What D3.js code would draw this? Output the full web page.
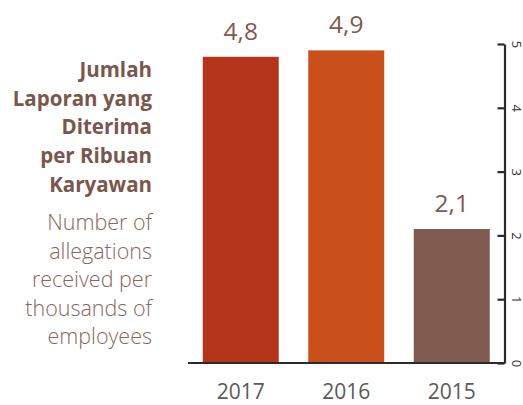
<!DOCTYPE html>
<html lang="id">

<head>
  <meta charset="UTF-8">
  <title>Jumlah Laporan</title>
  <style>
    body {
      margin: 0;
      background: #fff;
    }

    .chart text {
      font-family: "Open Sans", "DejaVu Sans", sans-serif;
    }

    .title {
      fill: #7b564b;
      font-weight: 700;
      font-size: 20.5px;
    }

    .subtitle {
      fill: #8a665c;
      font-weight: 300;
      font-size: 21.5px;
    }

    .val {
      fill: #7f5a50;
      font-size: 24.5px;
    }

    .year {
      fill: #5a5a5a;
      font-size: 21px;
    }

    .yaxis path,
    .yaxis line {
      stroke: #2b2b2b;
      stroke-width: 2.2;
    }

    .yaxis text {
      fill: #333;
      font-size: 13px;
    }
  </style>
</head>

<body>
  <div class="warp"></div>
  <script src="https://cdn.jsdelivr.net/npm/d3@7"></script>
  <script>
    // data
    var categories = ['2017', '2016', '2015'];
    var values = [4.8, 4.9, 2.1];
    var valueLabels = ['4,8', '4,9', '2,1'];
    var yTicks = [0, 1, 2, 3, 4, 5];
    var titleLines = ['Jumlah', 'Laporan yang', 'Diterima', 'per Ribuan', 'Karyawan'];
    var subtitleLines = ['Number of', 'allegations', 'received per', 'thousands of', 'employees'];

    var barColors = ['#b5351b', '#c94f1b', '#7e5a4f'];

    var width = 523, height = 405;
    var svg = d3.select('.warp').append('svg')
      .attr('class', 'chart')
      .attr('width', width)
      .attr('height', height);

    var x = d3.scaleBand()
      .domain(categories)
      .range([188, 504.5])
      .paddingInner(0.28)
      .paddingOuter(0.14);

    var y = d3.scaleLinear()
      .domain([0, 5])
      .range([363, 44]);

    // bars
    svg.selectAll('rect.bar')
      .data(values)
      .enter()
      .append('rect')
      .attr('class', 'bar')
      .attr('x', function (d, i) { return x(categories[i]); })
      .attr('y', function (d) { return y(d); })
      .attr('width', x.bandwidth())
      .attr('height', function (d) { return y(0) - y(d); })
      .attr('fill', function (d, i) { return barColors[i]; });

    // value labels
    svg.selectAll('text.val')
      .data(values)
      .enter()
      .append('text')
      .attr('class', 'val')
      .attr('text-anchor', 'middle')
      .attr('x', function (d, i) { return x(categories[i]) + x.bandwidth() / 2; })
      .attr('y', function (d) { return y(d) - 17; })
      .text(function (d, i) { return valueLabels[i]; });

    // year labels
    svg.selectAll('text.year')
      .data(categories)
      .enter()
      .append('text')
      .attr('class', 'year')
      .attr('text-anchor', 'middle')
      .attr('x', function (d) { return x(d) + x.bandwidth() / 2; })
      .attr('y', 399)
      .text(function (d) { return d; });

    // baseline
    svg.append('line')
      .attr('x1', x.range()[0])
      .attr('x2', x.range()[1])
      .attr('y1', y(0))
      .attr('y2', y(0))
      .attr('stroke', '#2b2b2b')
      .attr('stroke-width', 2.2);

    // right axis, ticks point inward, labels rotated
    var axis = svg.append('g')
      .attr('class', 'yaxis')
      .attr('transform', 'translate(' + x.range()[1] + ',0)')
      .call(d3.axisRight(y).tickValues(yTicks).tickSizeInner(-7).tickSizeOuter(0).tickFormat(d3.format('d')));
    axis.select('.domain').attr('fill', 'none');
    axis.selectAll('.tick text')
      .attr('x', null)
      .attr('dy', null)
      .attr('text-anchor', 'middle')
      .attr('transform', 'translate(7,0) rotate(90)');

    // left texts
    var tx = 152;
    svg.selectAll('text.title')
      .data(titleLines)
      .enter()
      .append('text')
      .attr('class', 'title')
      .attr('text-anchor', 'end')
      .attr('x', tx)
      .attr('y', function (d, i) { return 77 + i * 28.7; })
      .text(function (d) { return d; });

    svg.selectAll('text.subtitle')
      .data(subtitleLines)
      .enter()
      .append('text')
      .attr('class', 'subtitle')
      .attr('text-anchor', 'end')
      .attr('x', tx)
      .attr('y', function (d, i) { return 230 + i * 28.5; })
      .text(function (d) { return d; });
  </script>
</body>

</html>
